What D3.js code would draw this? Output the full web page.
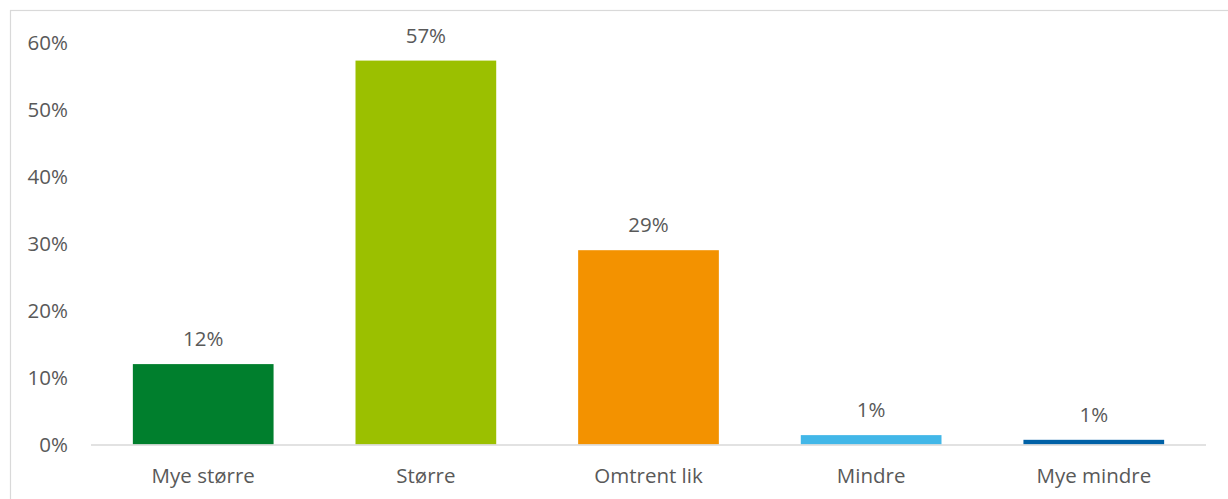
<!DOCTYPE html>
<html>
<head>
<meta charset="utf-8">
<script src="https://cdn.jsdelivr.net/npm/d3@7"></script>
<style>
  html, body { margin: 0; padding: 0; background: #fff; }
  svg { display: block; }
  text { font-family: "Open Sans", "Noto Sans", sans-serif; fill: #595959; }
</style>
</head>
<body>
<svg id="chart" width="1228" height="499"></svg>
<script>
// Response categories and shares (percent)
const categories = ["Mye større", "Større", "Omtrent lik", "Mindre", "Mye mindre"];
const values = [12, 57.3, 29, 1.4, 0.7];
const colors = ["#007F2D", "#9BC000", "#F39200", "#42B7E8", "#0061A6"];
const yTicks = [0, 10, 20, 30, 40, 50, 60];

const svg = d3.select("#chart");
const W = 1228, H = 499;
const margin = { left: 91, right: 22, top: 42.5, bottom: 54.5 };
const FONT = 20.5;

// outer chart frame
svg.append("rect")
  .attr("x", 10.5).attr("y", 10.5)
  .attr("width", W).attr("height", H)
  .attr("fill", "none").attr("stroke", "#d9d9d9").attr("stroke-width", 1.2);

const x = d3.scaleBand()
  .domain(categories)
  .range([margin.left, W - margin.right])
  .paddingInner(0.368).paddingOuter(0.188);

const y = d3.scaleLinear()
  .domain([0, 60])
  .range([H - margin.bottom, margin.top]);

const pct = d => d3.format(".0f")(d) + "%";

// y axis labels (no axis line, no ticks)
const yAxis = d3.axisLeft(y).tickValues(yTicks).tickFormat(pct).tickSize(0).tickPadding(0);
const gy = svg.append("g").attr("transform", `translate(68,0)`).call(yAxis);
gy.select(".domain").remove();
gy.selectAll("text")
  .attr("font-size", FONT)
  .attr("font-family", null)
  .attr("fill", "#595959")
  .attr("dy", "0.36em");

// bars
svg.append("g").selectAll("rect")
  .data(values)
  .join("rect")
  .attr("x", (d, i) => x(categories[i]))
  .attr("width", x.bandwidth())
  .attr("y", d => y(d))
  .attr("height", d => y(0) - y(d))
  .attr("fill", (d, i) => colors[i]);

// value labels
svg.append("g").selectAll("text")
  .data(values)
  .join("text")
  .attr("x", (d, i) => x(categories[i]) + x.bandwidth() / 2)
  .attr("y", d => y(d) - 18)
  .attr("text-anchor", "middle")
  .attr("font-size", FONT)
  .text(d => pct(d));

// category axis
const xAxis = d3.axisBottom(x).tickSize(0).tickPadding(0);
const gx = svg.append("g").attr("transform", `translate(0,${y(0)})`).call(xAxis);
gx.select(".domain")
  .attr("stroke", "#d9d9d9").attr("stroke-width", 1.5)
  .attr("d", `M${margin.left},0.5H${W - margin.right}`);
gx.selectAll("text")
  .attr("font-size", FONT)
  .attr("font-family", null)
  .attr("fill", "#595959")
  .attr("dy", null)
  .attr("y", 38.5);
</script>
</body>
</html>
